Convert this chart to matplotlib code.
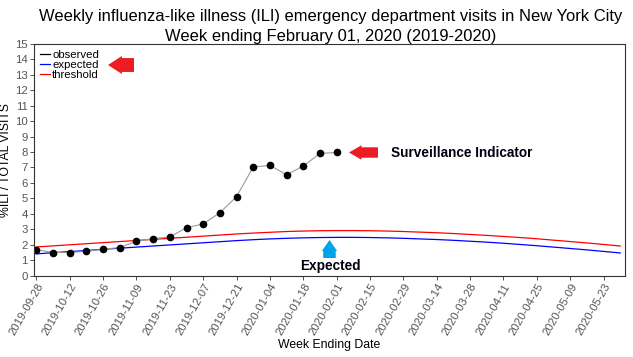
import matplotlib
matplotlib.use("Agg")
import matplotlib.pyplot as plt
import matplotlib.dates as mdates
import numpy as np
import datetime as dt

plt.rcParams['font.family'] = ['Liberation Sans', 'DejaVu Sans']

# observed weekly %ILI, weeks ending 2019-09-28 .. 2020-02-01
obs_start = dt.date(2019, 9, 28)
observed = [1.68, 1.49, 1.49, 1.57, 1.70, 1.81, 2.22, 2.39, 2.50, 3.10,
            3.34, 4.07, 5.11, 7.03, 7.13, 6.53, 7.09, 7.91, 7.97]

# expected and threshold, weeks ending 2019-09-28 .. 2020-05-30
expected = [1.40, 1.48, 1.55, 1.62, 1.70, 1.77, 1.84, 1.91, 1.98, 2.05,
            2.12, 2.19, 2.26, 2.32, 2.37, 2.41, 2.44, 2.46, 2.47, 2.47,
            2.46, 2.44, 2.41, 2.37, 2.33, 2.28, 2.22, 2.16, 2.09, 2.01,
            1.93, 1.84, 1.75, 1.66, 1.56, 1.46]
threshold = [1.85, 1.92, 1.99, 2.06, 2.13, 2.20, 2.27, 2.34, 2.41, 2.48,
             2.55, 2.62, 2.69, 2.75, 2.80, 2.85, 2.88, 2.90, 2.91, 2.91,
             2.90, 2.88, 2.85, 2.81, 2.77, 2.72, 2.66, 2.60, 2.53, 2.46,
             2.38, 2.29, 2.20, 2.11, 2.01, 1.91]

obs_dates = [obs_start + dt.timedelta(weeks=i) for i in range(len(observed))]
exp_dates = [obs_start + dt.timedelta(weeks=i) for i in range(len(expected))]
tick_dates = [obs_start + dt.timedelta(weeks=2 * i) for i in range(18)]

W, H = 633, 357
fig = plt.figure(figsize=(W / 100, H / 100), dpi=100)
ax = fig.add_axes([34 / W, 1 - 275.5 / H, (625 - 34) / W, (275.5 - 44) / H])

ax.plot(exp_dates, expected, color='#0000ff', lw=0.9, label='expected')
ax.plot(exp_dates, threshold, color='#ff0000', lw=0.9, label='threshold')
ax.plot(obs_dates, observed, color='#999999', lw=0.8)
ax.plot(obs_dates, observed, 'o', color='black', ms=4.5)
ax.plot([], [], color='black', lw=0.9, label='observed')

h, l = ax.get_legend_handles_labels()
order = [2, 0, 1]
ax.legend([h[i] for i in order], [l[i] for i in order], loc='upper left',
          frameon=False, fontsize=8.2, handlelength=0.9, handletextpad=0.2,
          labelspacing=0.0, borderaxespad=0.3, borderpad=0.2)

ax.set_xlim(dt.date(2019, 9, 27), dt.date(2020, 6, 1))
ax.set_ylim(0, 15)
ax.set_yticks(range(16))
ax.set_xticks(tick_dates)
ax.xaxis.set_major_formatter(mdates.DateFormatter('%Y-%m-%d'))
plt.setp(ax.get_xticklabels(), rotation=60, ha='right', rotation_mode='anchor')
ax.tick_params(axis='both', labelsize=8.2, labelcolor='#555555', color='#333333',
               length=3, width=0.6, pad=1.5)
for s in ax.spines.values():
    s.set_color('#333333')
    s.set_linewidth(0.8)

ax.set_ylabel('%ILI / TOTAL VISITS', fontsize=8.8, labelpad=2)
ax.set_xlabel('Week Ending Date', fontsize=8.8, labelpad=1)

fig.text(331 / W, 1 - 17 / H, 'Weekly influenza-like illness (ILI) emergency department visits in New York City',
         ha='center', va='center', fontsize=11.9)
fig.text(331 / W, 1 - 36 / H, 'Week ending February 01, 2020 (2019-2020)',
         ha='center', va='center', fontsize=11.9)


def arrow(x0, y0, x1, y1, color, head_w, head_l, tail_w):
    # sizes in pixels, coordinates in image pixels from top-left
    fig.add_artist(matplotlib.patches.FancyArrowPatch(
        (x0, H - y0), (x1, H - y1), transform=None,
        arrowstyle=f'simple,head_width={head_w},head_length={head_l},tail_width={tail_w}',
        color=color, mutation_scale=1, lw=0, shrinkA=0, shrinkB=0))


arrow(134, 65, 108, 65, '#ed1c24', 13, 10, 10)
arrow(378, 152.5, 349, 152.5, '#ed1c24', 10.5, 9, 7.5)
arrow(329.5, 258, 329.5, 240, '#00a2e8', 11, 8, 9)

fig.text(391 / W, 1 - 153 / H, 'Surveillance Indicator', fontsize=9.8,
         fontweight='bold', color='#000011', va='center')
fig.text(300 / W, 1 - 266 / H, 'Expected', fontsize=9.8,
         fontweight='bold', color='#000011', va='center')

fig.savefig('out.png', dpi=100)
